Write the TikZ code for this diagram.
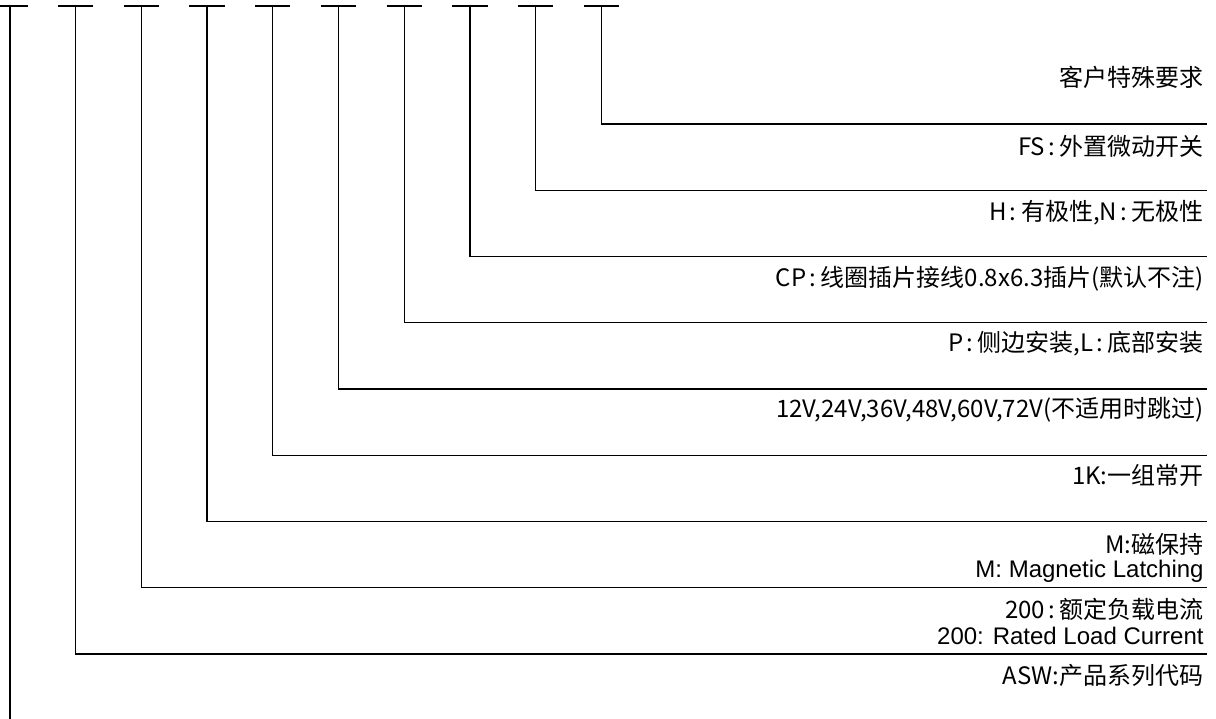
\documentclass[tikz,border=0pt]{standalone}
\usepackage{fontspec}
\setmainfont{Liberation Sans}
\newfontfamily\cjk{Noto Sans CJK SC}
\newcommand{\wcolon}{\hspace{0.12em}:\hspace{0.2em}}

\begin{document}
\begin{tikzpicture}[x=0.5pt, y=-0.5pt,
					every node/.style={inner sep=0pt, anchor=base east},
					zhtext/.style={font=\cjk\fontsize{12}{14}\selectfont},
					entext/.style={font=\fontsize{12}{14}\selectfont},
					lead/.style={line width=0.65pt, line cap=rect}]
	\useasboundingbox (0,0) rectangle (1216,718);
	% top marks and leads
	\foreach \i in {0,...,9} {
		\coordinate (t\i) at ({10+65.7*\i},6);
		\draw[lead] (t\i) ++(-17,0) -- ++(34,0);
	}
	\foreach \i in {1,...,9} {
		\coordinate (e\i) at (1206,{124+(9-\i)*66.25});
		\draw[lead] (t\i) |- (e\i);
	}
	\coordinate (b0) at (10,718);
	\draw[lead] (t0) -- (b0);
	% texts
	\node[zhtext] (l10) at (1204,86) {客户特殊要求};
	\node[zhtext] (l9) at (1204,155) {FS\wcolon{}外置微动开关};
	\node[zhtext] (l8) at (1204,220) {H\wcolon{}有极性,N\wcolon{}无极性};
	\node[zhtext] (l7) at (1204,286) {CP\wcolon{}线圈插片接线0.8x6.3插片(默认不注)};
	\node[zhtext] (l6) at (1204,351) {P\wcolon{}侧边安装,L\wcolon{}底部安装};
	\node[zhtext] (l5) at (1204,417) {12V,24V,36V,48V,60V,72V(不适用时跳过)};
	\node[zhtext] (l4) at (1204,484) {1K:一组常开};
	\node[zhtext] (l3) at (1204,553) {M:磁保持};
	\node[entext] (l3en) at (1204,577) {M: Magnetic Latching};
	\node[zhtext] (l2) at (1204,618) {200\wcolon{}额定负载电流};
	\node[entext] (l2en) at (1204,644) {200: Rated Load Current};
	\node[zhtext] (l1) at (1204,684) {ASW:产品系列代码};
\end{tikzpicture}
\end{document}
